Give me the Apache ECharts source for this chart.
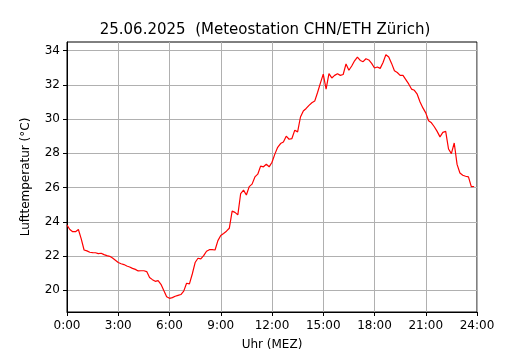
<!DOCTYPE html>
<html>
<head>
<meta charset="utf-8">
<script src="https://cdn.jsdelivr.net/npm/echarts@6/dist/echarts.min.js"></script>
<style>
  html, body { margin: 0; padding: 0; background: #fff; }
  #chart { width: 530px; height: 350px; }
</style>
</head>
<body>
<div id="chart"></div>
<script>
// Lufttemperatur, 10-Minuten-Werte ab 0:00
const temps = [
  23.80, 23.55, 23.42, 23.42, 23.55, 23.00, 22.35, 22.30, 22.22, 22.20, 22.19, 22.14,
  22.16, 22.08, 22.02, 21.98, 21.88, 21.75, 21.62, 21.55, 21.50, 21.42, 21.36, 21.28,
  21.22, 21.13, 21.14, 21.14, 21.09, 20.75, 20.62, 20.52, 20.56, 20.35, 19.98, 19.62,
  19.53, 19.57, 19.65, 19.70, 19.75, 19.95, 20.41, 20.37, 20.95, 21.62, 21.87, 21.83,
  22.02, 22.28, 22.37, 22.37, 22.35, 22.90, 23.20, 23.32, 23.45, 23.62, 24.62, 24.55,
  24.40, 25.65, 25.85, 25.56, 26.05, 26.20, 26.62, 26.78, 27.25, 27.21, 27.36, 27.21,
  27.48, 27.95, 28.35, 28.57, 28.66, 29.00, 28.82, 28.86, 29.35, 29.25, 30.12, 30.47,
  30.62, 30.80, 30.95, 31.05, 31.55, 32.10, 32.62, 31.75, 32.65, 32.40, 32.55, 32.65,
  32.55, 32.60, 33.22, 32.85, 33.10, 33.40, 33.62, 33.42, 33.35, 33.52, 33.45, 33.25,
  32.98, 33.04, 32.96, 33.30, 33.76, 33.62, 33.25, 32.82, 32.72, 32.55, 32.55, 32.30,
  32.05, 31.75, 31.68, 31.45, 31.00, 30.65, 30.36, 29.90, 29.78, 29.55, 29.28, 28.96,
  29.22, 29.28, 28.25, 27.98, 28.60, 27.35, 26.85, 26.72, 26.66, 26.62, 26.05, 26.06
];
const stepHours = 1 / 6;
const yTicks = [20, 22, 24, 26, 28, 30, 32, 34];
const xTickStep = 3;

const points = temps.map((v, i) => [i * stepHours, v]);

const chart = echarts.init(document.getElementById('chart'));
const font = 'DejaVu Sans';

chart.setOption({
  animation: false,
  title: {
    text: '25.06.2025  (Meteostation CHN/ETH Zürich)',
    left: 'center',
    top: 18,
    textStyle: { fontFamily: font, fontSize: 15, fontWeight: 'normal', color: '#000' }
  },
  grid: {
    left: 67, right: 53, top: 42, bottom: 38,
    outerBoundsMode: 'none',
    containLabel: false,
    show: true, borderColor: '#000', borderWidth: 1, backgroundColor: 'transparent'
  },
  xAxis: {
    type: 'value',
    min: 0, max: 24, interval: xTickStep,
    name: 'Uhr (MEZ)',
    nameLocation: 'middle',
    nameGap: 27,
    nameTextStyle: { fontFamily: font, fontSize: 12, color: '#000' },
    axisLine: { show: true, lineStyle: { color: '#000', width: 1 } },
    axisTick: { show: true, length: 4, lineStyle: { color: '#000' } },
    axisLabel: {
      fontFamily: font, fontSize: 12, color: '#000', margin: 8,
      formatter: v => v + ':00'
    },
    splitLine: { show: true, lineStyle: { color: '#b0b0b0', width: 1 } }
  },
  yAxis: {
    type: 'value',
    min: 18.73, max: 34.5,
    name: 'Lufttemperatur (°C)',
    nameLocation: 'middle',
    nameGap: 35,
    nameTextStyle: { fontFamily: font, fontSize: 12, color: '#000' },
    axisLine: { show: true, lineStyle: { color: '#000', width: 1 } },
    axisTick: { show: true, length: 4, lineStyle: { color: '#000' }, customValues: yTicks },
    axisLabel: { fontFamily: font, fontSize: 12, color: '#000', margin: 7, customValues: yTicks },
    splitLine: { show: true, lineStyle: { color: '#b0b0b0', width: 1 } }
  },
  series: [{
    type: 'line',
    data: points,
    showSymbol: false,
    lineStyle: { color: '#ff0000', width: 1.2 },
    itemStyle: { color: '#ff0000' }
  }]
});
</script>
</body>
</html>
